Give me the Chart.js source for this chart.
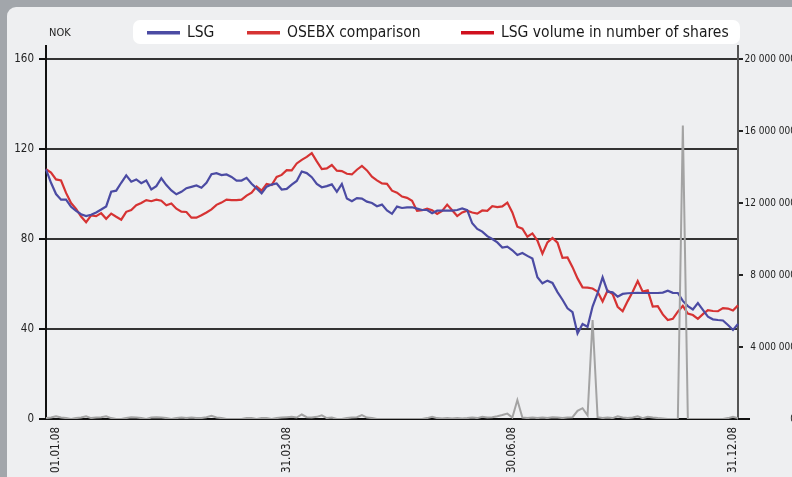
<!DOCTYPE html>
<html>
<head>
<meta charset="utf-8">
<script src="https://cdn.jsdelivr.net/npm/chart.js@4.4.1/dist/chart.umd.min.js"></script>
<style>
  html, body { margin: 0; padding: 0; background: #a2a6ab; }
  #wrap { width: 792px; height: 477px; position: relative; }
</style>
</head>
<body>
<div id="wrap"><canvas id="line-chartcanvas"></canvas></div>
<script>
// share price, NOK (one point per ~trading-day step)
var lsg = [111, 105, 100, 97.5, 97.5, 94.3, 92.5, 91, 90.2, 90.8,
    91.8, 93.1, 94.5, 101, 101.5, 105, 108.3, 105.5, 106.5, 104.8,
    106, 102, 103.5, 107, 104, 101.6, 99.9, 101, 102.6, 103.2,
    103.8, 102.8, 105, 108.8, 109.3, 108.4, 108.7, 107.6, 106, 106,
    107.2, 104.6, 102.5, 100.3, 103.3, 104.2, 104.7, 102, 102.3, 104.2,
    105.8, 110, 109.3, 107.5, 104.5, 103, 103.5, 104.3, 101, 104.5,
    98, 96.8, 98.2, 98, 96.6, 96, 94.6, 95.3, 92.7, 91.2,
    94.4, 93.8, 94.1, 94.1, 93.5, 92.9, 92.9, 91.5, 92.6, 92.6,
    92.6, 92.6, 92.9, 93.6, 92.8, 87, 84.5, 83.3, 81.3, 80,
    78.5, 76.2, 76.6, 75, 72.9, 73.8, 72.5, 71.3, 63, 60.3,
    61.5, 60.5, 56.4, 53, 49.2, 47.5, 38, 42.2, 41, 50,
    56, 63, 56.6, 56.3, 54.4, 55.6, 55.9, 56, 56.1, 56,
    56, 56, 56, 56.2, 57, 56.1, 56, 52.5, 50.2, 48.7,
    51.5, 48.5, 45.5, 44.3, 44, 43.8, 41.8, 39.6, 42.2];

var osebx = [111, 109.5, 106.5, 106, 100.5, 96, 93.4, 90, 87.5, 90.5,
    90.2, 91.5, 89, 91.3, 89.9, 88.6, 92.1, 92.9, 95, 96,
    97.3, 96.8, 97.5, 97, 95, 95.8, 93.5, 92.2, 92, 89.5,
    89.5, 90.6, 91.8, 93.2, 95.2, 96.2, 97.5, 97.3, 97.3, 97.5,
    99.3, 100.6, 103.3, 101.5, 104.5, 104, 107.6, 108.5, 110.6, 110.5,
    113.6, 115.2, 116.5, 118.2, 114.5, 111.1, 111.4, 112.9, 110.4, 110.2,
    109, 108.7, 110.8, 112.5, 110.5, 107.7, 106.1, 104.7, 104.5, 101.5,
    100.6, 98.9, 98.3, 97, 92.5, 92.8, 93.5, 92.8, 91.2, 92.5,
    95.3, 92.8, 90.2, 91.8, 92.6, 91.8, 91.3, 92.7, 92.5, 94.6,
    94.2, 94.5, 96.2, 91.8, 85.5, 84.6, 81, 82.5, 79.3, 73.5,
    78.5, 80.5, 78.4, 71.6, 71.8, 67.5, 62.5, 58.5, 58.4, 58,
    56.6, 52.2, 57.1, 55.5, 49.9, 47.9, 52.4, 56.6, 61.3, 56.6,
    57.2, 50, 50.2, 46.5, 44, 44.5, 47.7, 50.3, 46.9, 46.2,
    44.5, 46.6, 48.4, 48, 47.9, 49.3, 49.1, 48.2, 50.5];

// volume, millions of shares
var volume = [0.05, 0.08, 0.15, 0.08, 0.05, 0, 0.05, 0.08, 0.15, 0.05,
    0.08, 0.1, 0.15, 0.05, 0, 0, 0.05, 0.1, 0.08, 0.05,
    0, 0.08, 0.1, 0.08, 0.05, 0, 0.05, 0.08, 0.05, 0.08,
    0.05, 0.05, 0.1, 0.18, 0.08, 0.05, 0, 0, 0, 0,
    0.05, 0.05, 0, 0.05, 0.05, 0, 0.05, 0.08, 0.1, 0.12,
    0.08, 0.25, 0.1, 0.08, 0.12, 0.2, 0.05, 0.08, 0, 0,
    0.05, 0.08, 0.1, 0.22, 0.08, 0.05, 0, 0, 0, 0,
    0, 0, 0, 0, 0, 0, 0.05, 0.12, 0.05, 0.03,
    0.05, 0.03, 0.05, 0.03, 0.05, 0.08, 0.05, 0.12, 0.08, 0.1,
    0.15, 0.22, 0.3, 0.08, 1.05, 0.08, 0.05, 0.08, 0.05, 0.08,
    0.05, 0.1, 0.08, 0.05, 0.08, 0.1, 0.45, 0.6, 0.2, 5.5,
    0.1, 0.05, 0.08, 0.05, 0.15, 0.08, 0.05, 0.08, 0.15, 0.05,
    0.12, 0.08, 0.05, 0.03, 0, 0, 0, 16.3, 0, 0,
    0, 0, 0, 0, 0, 0, 0.05, 0.12, 0.05];

var dateLabels = ['01.01.08', '31.03.08', '30.06.08', '31.12.08'];
var dateIndex = [2, 48, 93, 137];
var nokTicks = [0, 40, 80, 120, 160];
var volTicks = [0, 4, 8, 12, 16, 20];
var seriesNames = ['LSG', 'OSEBX comparison', 'LSG volume in number of shares'];
var legendColors = ['#4b4ba3', '#d63333', '#d0101e'];

var labels = lsg.map(function() { return ''; });
dateIndex.forEach(function(idx, k) { labels[idx] = dateLabels[k]; });

var narrow = "'DejaVu Sans Condensed', 'Liberation Sans', sans-serif";

function spaced(n) {
    return String(Math.round(n)).replace(/\B(?=(\d{3})+(?!\d))/g, ' ');
}

// background panel, legend box, NOK label
var decor = {
    id: 'decor',
    beforeDraw: function(chart) {
        var c = chart.ctx;
        c.save();
        c.fillStyle = '#a2a6ab';
        c.fillRect(0, 0, chart.width, chart.height);
        c.fillStyle = '#eeeff1';
        c.beginPath();
        c.roundRect(7, 7, chart.width + 20, chart.height + 20, 9);
        c.fill();

        c.fillStyle = '#ffffff';
        c.beginPath();
        c.roundRect(133, 20, 607, 24, 7);
        c.fill();

        var swatchX = [147, 247, 461];
        c.font = '15.5px ' + narrow;
        c.textBaseline = 'middle';
        seriesNames.forEach(function(name, i) {
            c.fillStyle = legendColors[i];
            c.fillRect(swatchX[i], 31, 33, 3.5);
            c.fillStyle = '#1a1a1a';
            c.fillText(name, swatchX[i] + 40, 33);
        });

        c.font = '11px ' + narrow;
        c.fillStyle = '#222';
        c.fillText('NOK', 49, 33);
        c.restore();
    },
    afterDraw: function(chart) {
        var c = chart.ctx, a = chart.chartArea;
        c.save();
        c.strokeStyle = '#111';
        c.lineWidth = 2;
        c.beginPath();
        c.moveTo(a.right, a.bottom);
        c.lineTo(a.right + 12, a.bottom);
        c.stroke();
        c.restore();
    }
};

var ctx = document.getElementById('line-chartcanvas');

var data = {
    labels: labels,
    datasets: [
        {
            label: seriesNames[0],
            data: lsg,
            borderColor: '#4b4ba3',
            borderWidth: 2.2,
            pointRadius: 0,
            tension: 0,
            yAxisID: 'y',
            order: 1
        },
        {
            label: seriesNames[1],
            data: osebx,
            borderColor: '#d63333',
            borderWidth: 2.2,
            pointRadius: 0,
            tension: 0,
            yAxisID: 'y',
            order: 2
        },
        {
            label: seriesNames[2],
            data: volume,
            borderColor: '#a3a3a3',
            borderWidth: 2,
            pointRadius: 0,
            tension: 0,
            yAxisID: 'y1',
            order: 0
        }
    ]
};

var options = {
    responsive: true,
    maintainAspectRatio: false,
    animation: false,
    layout: { padding: { top: 46, left: 0, right: -4, bottom: 0 } },
    plugins: {
        legend: { display: false },
        tooltip: { enabled: false }
    },
    scales: {
        x: {
            type: 'category',
            offset: false,
            z: 1,
            grid: { display: false, drawTicks: false },
            border: { display: true, color: '#111', width: 2 },
            ticks: {
                autoSkip: false,
                minRotation: 90,
                maxRotation: 90,
                padding: 8,
                color: '#222',
                font: { family: narrow, size: 11.5 }
            },
            afterFit: function(s) { s.height = 58; }
        },
        y: {
            position: 'left',
            min: 0,
            max: 165.8,
            afterBuildTicks: function(s) {
                s.ticks = nokTicks.map(function(v) { return { value: v }; });
            },
            grid: { color: '#333', lineWidth: 2, tickLength: 7, tickColor: '#111' },
            border: { color: '#111', width: 2 },
            ticks: { color: '#222', padding: 5, font: { family: narrow, size: 11.5 } },
            afterFit: function(s) { s.width = 46; }
        },
        y1: {
            position: 'right',
            min: 0,
            max: 20.72,
            afterBuildTicks: function(s) {
                s.ticks = volTicks.map(function(v) { return { value: v }; });
            },
            grid: { drawOnChartArea: false, tickLength: 5, color: '#222', lineWidth: 2 },
            border: { color: '#555', width: 2 },
            ticks: {
                crossAlign: 'far',
                padding: 4,
                color: '#222',
                font: { family: narrow, size: 10 },
                callback: function(v) { return spaced(v * 1000000); }
            },
            afterFit: function(s) { s.width = 58; }
        }
    }
};

var chart = new Chart(ctx, {
    type: 'line',
    data: data,
    options: options,
    plugins: [decor]
});
</script>
</body>
</html>
